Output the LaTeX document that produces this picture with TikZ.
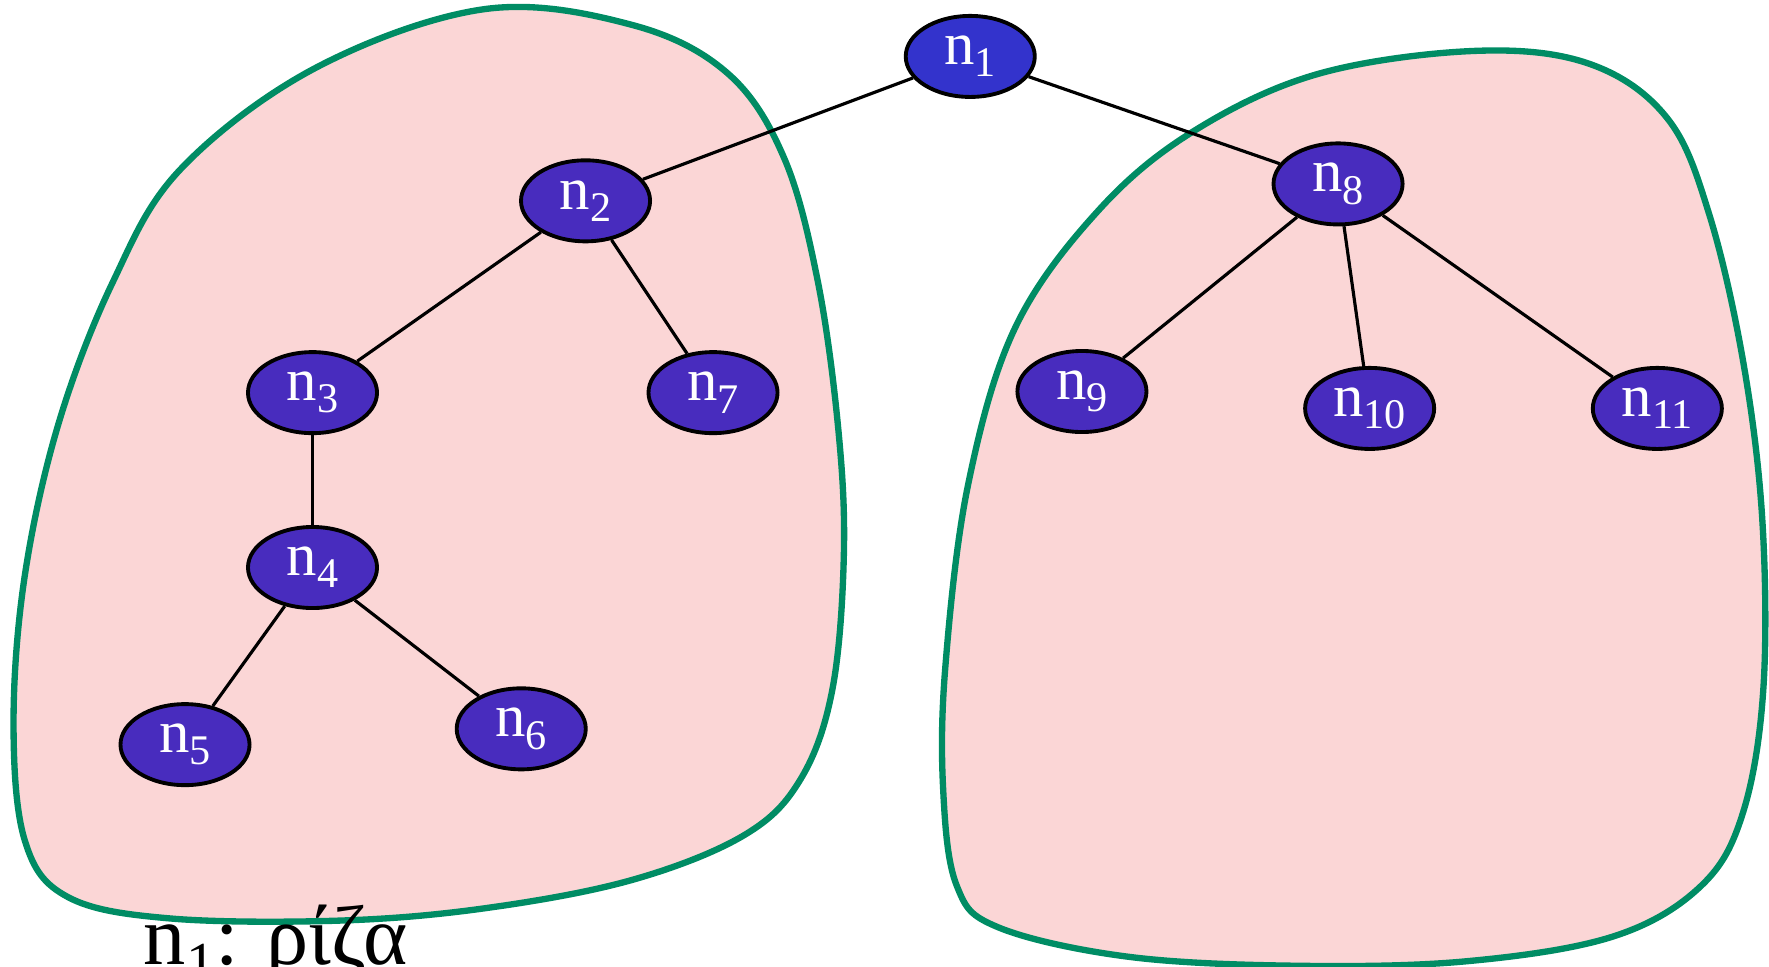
\documentclass[tikz,border=0pt]{standalone}
\usepackage{fontspec}
\setmainfont{Liberation Serif}
\usepackage{tikz}
\usetikzlibrary{shapes,positioning,calc}
\usepackage{xcolor}

\definecolor{rootblue}{RGB}{51,51,204}
\definecolor{subblue}{RGB}{72,44,190}
\definecolor{blobpink}{RGB}{251,214,214}
\definecolor{blobgreen}{RGB}{0,140,100}

\newcommand{\nlab}[1]{n\raisebox{-3.5pt}{\large #1}}

\begin{document}
\begin{tikzpicture}[x=0.01128cm, y=-0.01128cm,
    vert/.style={ellipse, draw=black, line width=1.1pt, fill=subblue,
                 minimum width=1.29cm, minimum height=0.81cm, inner sep=0pt,
                 text=white, font=\LARGE},
    rootvert/.style={vert, fill=rootblue},
    blob/.style={draw=blobgreen, line width=1.8pt, fill=blobpink},
    edge/.style={draw=black, line width=0.9pt}]
    \useasboundingbox (0,0) rectangle (1568,857);
    % the two subtrees
    \draw[blob] plot[smooth cycle, tension=0.6] coordinates {
        (430,8) (560,22) (645,65) (695,140) (725,250) (743,380) (748,490)
        (738,610) (710,690) (660,740) (560,780) (430,805) (300,816)
        (150,814) (60,795) (22,745) (12,640) (22,510) (52,375) (100,250)
        (160,150) (280,60)};
    \draw[blob] plot[smooth cycle, tension=0.6] coordinates {
        (1310,45) (1410,57) (1478,105) (1515,190) (1545,320) (1562,460)
        (1563,610) (1545,720) (1508,785) (1430,830) (1300,852) (1150,856)
        (1000,848) (885,822) (848,785) (836,700) (838,590) (858,430)
        (900,290) (975,185) (1060,115) (1170,65)};
    % vertices
    \node[rootvert] (n1) at (860,50) {\nlab{1}};
    \node[vert] (n2) at (519,178) {\nlab{2}};
    \node[vert] (n3) at (277,348) {\nlab{3}};
    \node[vert] (n7) at (632,348) {\nlab{7}};
    \node[vert] (n4) at (277,503) {\nlab{4}};
    \node[vert] (n5) at (164,660) {\nlab{5}};
    \node[vert] (n6) at (462,646) {\nlab{6}};
    \node[vert] (n8) at (1186,163) {\nlab{8}};
    \node[vert] (n9) at (959,347) {\nlab{9}};
    \node[vert] (n10) at (1214,362) {\nlab{10}};
    \node[vert] (n11) at (1469,362) {\nlab{11}};
    % edges
    \draw[edge] (n1) -- (n2);
    \draw[edge] (n1) -- (n8);
    \draw[edge] (n2) -- (n3);
    \draw[edge] (n2) -- (n7);
    \draw[edge] (n3) -- (n4);
    \draw[edge] (n4) -- (n5);
    \draw[edge] (n4) -- (n6);
    \draw[edge] (n8) -- (n9);
    \draw[edge] (n8) -- (n10);
    \draw[edge] (n8) -- (n11);
    \node[anchor=base west, inner sep=0pt, font=\fontsize{24}{24}\selectfont] (root) at (127,855)
        {n\raisebox{-5pt}{\fontsize{16.5}{16.5}\selectfont 1}: ρίζα};
\end{tikzpicture}
\end{document}
